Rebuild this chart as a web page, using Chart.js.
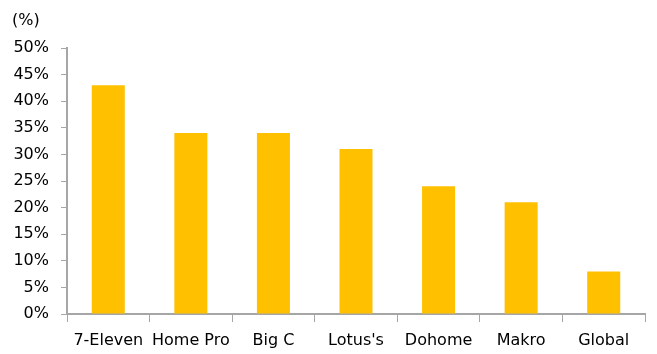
<!DOCTYPE html>
<html>
<head>
<meta charset="utf-8">
<script src="https://cdn.jsdelivr.net/npm/chart.js@4.4.0/dist/chart.umd.min.js"></script>
<style>
  body { margin: 0; background: #fff; }
</style>
</head>
<body>
<canvas id="chart" width="657" height="354"></canvas>
<script>
// categorie e valori
const negozi = ["7-Eleven", "Home Pro", "Big C", "Lotus's", "Dohome", "Makro", "Global"];
const valori = [43, 34, 34, 31, 24, 21, 8];
const asseY = { min: 0, max: 50, step: 5 };

const font = { family: "'DejaVu Sans', sans-serif", size: 16 };
const grigio = "#a6a6a6";

// etichetta "(%)" in alto a sinistra
const unitaPlugin = {
  id: 'unita',
  afterDraw(chart) {
    const ctx = chart.ctx;
    ctx.save();
    ctx.font = "16px 'DejaVu Sans', sans-serif";
    ctx.fillStyle = "#000";
    ctx.textBaseline = "middle";
    ctx.fillText("(%)", 12, 21);
    ctx.restore();
  }
};

new Chart('chart', {
  type: 'bar',
  data: {
    labels: negozi,
    datasets: [{
      data: valori,
      backgroundColor: "#FFC000",
      borderWidth: 0,
      barPercentage: 0.4,
      categoryPercentage: 1.0
    }]
  },
  options: {
    responsive: false,
    animation: false,
    layout: { padding: { top: 48, right: 12, left: 0, bottom: 0 } },
    plugins: { legend: { display: false }, tooltip: { enabled: false } },
    scales: {
      x: {
        grid: { display: true, drawOnChartArea: false, color: grigio, tickLength: 8, offset: true },
        border: { color: grigio, width: 2 },
        ticks: { color: "#000", font: font, maxRotation: 0, autoSkip: false, padding: 9 },
        afterFit: s => { s.height = 40; }
      },
      y: {
        min: asseY.min,
        max: asseY.max,
        grid: { display: true, drawOnChartArea: false, color: grigio, tickLength: 6 },
        border: { color: grigio, width: 2 },
        ticks: {
          stepSize: asseY.step,
          color: "#000",
          font: font,
          padding: 12,
          callback: v => v + '%'
        },
        afterFit: s => { s.width = 67; }
      }
    }
  },
  plugins: [unitaPlugin]
});
</script>
</body>
</html>
